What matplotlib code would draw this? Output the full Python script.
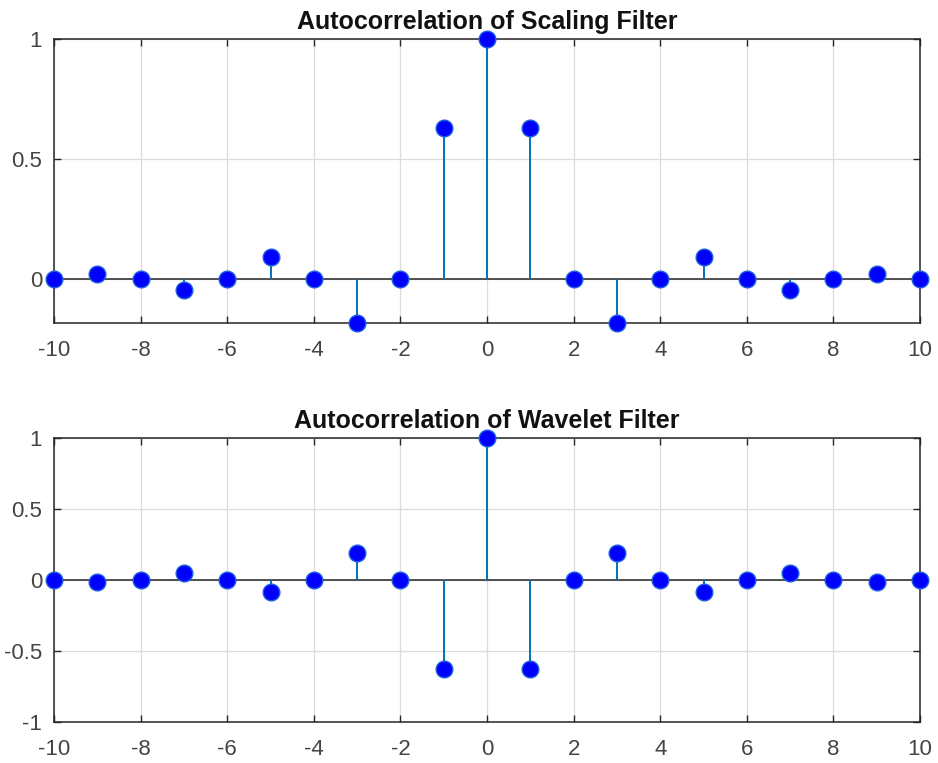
import matplotlib
matplotlib.use("Agg")
import matplotlib.pyplot as plt

# lags and autocorrelation values
lags = list(range(-10, 11))
scalingAcf = [0, 0.02, 0, -0.046, 0, 0.089, 0, -0.185, 0, 0.63, 1,
              0.63, 0, -0.185, 0, 0.089, 0, -0.046, 0, 0.02, 0]
waveletAcf = [0, -0.019, 0, 0.047, 0, -0.089, 0, 0.19, 0, -0.63, 1,
              -0.63, 0, 0.19, 0, -0.089, 0, 0.047, 0, -0.019, 0]
titles = ["Autocorrelation of Scaling Filter", "Autocorrelation of Wavelet Filter"]
xticks = list(range(-10, 11, 2))
yticksTop = [0, 0.5, 1]
yticksBottom = [-1, -0.5, 0, 0.5, 1]

plt.rcParams["font.family"] = ["Liberation Sans", "DejaVu Sans"]
axisColor = "#262626"
lineBlue = "#0072BD"

W, H = 938, 763
fig = plt.figure(figsize=(W / 100, H / 100), dpi=100)


def makeStemAxes(rect, values, title, yticks, ylim):
    ax = fig.add_axes([rect[0] / W, 1 - rect[3] / H, (rect[2] - rect[0]) / W, (rect[3] - rect[1]) / H])
    ax.grid(True, color="#dcdcdc", linewidth=0.9)
    ax.set_axisbelow(True)
    ax.axhline(0, color=axisColor, linewidth=1.1, zorder=2)
    ax.vlines(lags, 0, values, color=lineBlue, linewidth=1.4, zorder=3)
    ax.plot(lags, values, linestyle="none", marker="o", markersize=12,
            markerfacecolor="blue", markeredgecolor="#1e5fe0", markeredgewidth=1.0,
            clip_on=False, zorder=4)
    ax.set_xlim(-10, 10)
    ax.set_ylim(*ylim)
    ax.set_xticks(xticks)
    ax.set_xticklabels([str(t) for t in xticks])
    ax.set_yticks(yticks)
    ax.set_yticklabels([("%g" % t) for t in yticks])
    ax.tick_params(direction="in", length=5, width=1, colors=axisColor, labelsize=16,
                   top=True, right=True, labelcolor="#444444")
    ax.tick_params(axis="x", pad=12.5)
    ax.tick_params(axis="y", pad=8.5)
    for spine in ax.spines.values():
        spine.set_color(axisColor)
        spine.set_linewidth(1.1)
    ax.set_title(title, fontsize=18, fontweight="bold", color="#111111", pad=7)
    return ax


makeStemAxes((54, 39, 920, 323), scalingAcf, titles[0], yticksTop, (min(scalingAcf), 1))
makeStemAxes((54, 437.7, 920, 721.7), waveletAcf, titles[1], yticksBottom, (-1, 1))

plt.savefig("out.png", dpi=100)
